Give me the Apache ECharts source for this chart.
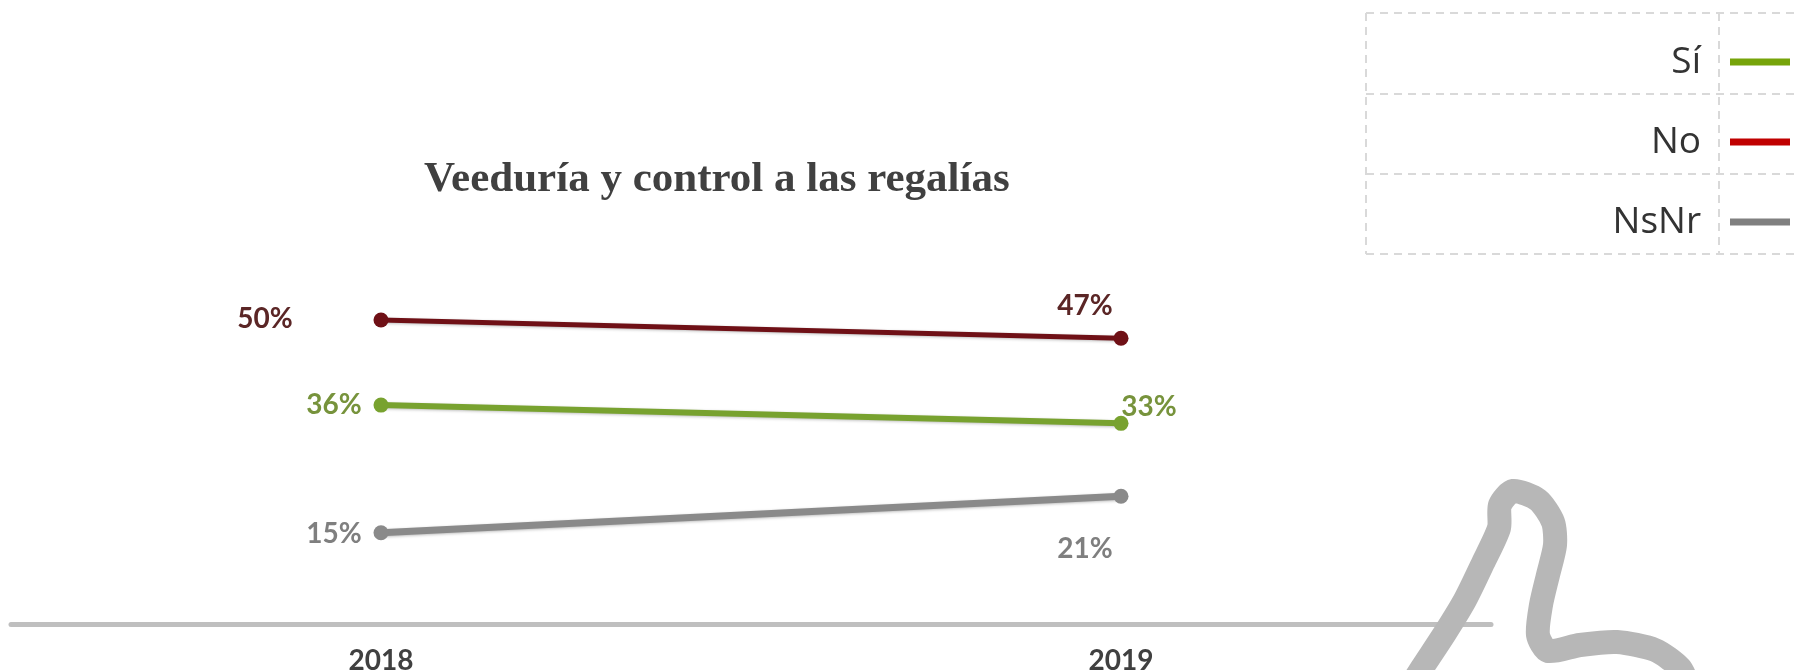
<!DOCTYPE html>
<html>
<head>
<meta charset="utf-8">
<script src="https://cdn.jsdelivr.net/npm/echarts@6/dist/echarts.min.js"></script>
<style>
  html,body{margin:0;padding:0;background:#fff;}
  #main{width:1798px;height:670px;}
</style>
</head>
<body>
<div id="main"></div>
<script>
// datos
var years = ['2018', '2019'];
var siValues = [36, 33];
var noValues = [50, 47];
var nsnrValues = [15, 21];

// posiciones de las etiquetas (offset respecto al punto)
var siOffsets = [[-47, 0], [28, -16]];
var noOffsets = [[-116, -1], [-36, -32]];
var nsnrOffsets = [[-47, 1], [-36, 53]];

var myChart = echarts.init(document.getElementById('main'));

function withLabels(values, offsets) {
  return values.map(function (v, i) {
    return { value: v, label: { offset: offsets[i] } };
  });
}

function makeSeries(name, values, offsets, lineColor, labelColor, width) {
  return {
    name: name,
    type: 'line',
    data: withLabels(values, offsets),
    symbol: 'circle',
    symbolSize: 15,
    lineStyle: {
      color: lineColor,
      width: width,
      shadowColor: 'rgba(0,0,0,0.25)',
      shadowBlur: 3,
      shadowOffsetY: 1
    },
    itemStyle: { color: lineColor, borderWidth: 0 },
    label: {
      show: true,
      position: 'inside',
      formatter: '{c}%',
      color: labelColor,
      fontFamily: 'Lato',
      fontWeight: 'bold',
      fontSize: 28
    },
    emphasis: { disabled: true },
    z: 3
  };
}

var dash = { stroke: '#d9d9d9', lineWidth: 2, lineDash: [8, 6] };

var option = {
  animation: false,
  backgroundColor: '#fff',
  title: {
    text: 'Veeduría y control a las regalías',
    left: 419,
    top: 153,
    textStyle: {
      fontFamily: 'Liberation Serif',
      fontWeight: 'bold',
      fontSize: 43,
      color: '#404040'
    }
  },
  legend: {
    orient: 'vertical',
    align: 'right',
    right: 3,
    top: 37,
    icon: 'rect',
    itemWidth: 60,
    itemHeight: 7,
    itemGap: 40,
    itemStyle: { borderWidth: 0 },
    textStyle: {
      fontFamily: 'Open Sans',
      fontSize: 37,
      lineHeight: 40,
      color: '#333',
      padding: [0, 24, 0, 0]
    },
    data: [
      { name: 'Sí', itemStyle: { color: '#76a40a' } },
      { name: 'No', itemStyle: { color: '#c00000' } },
      { name: 'NsNr', itemStyle: { color: '#808080' } }
    ]
  },
  grid: { left: 11, right: 307, top: 16, bottom: 46, containLabel: false, outerBoundsMode: 'none' },
  xAxis: {
    type: 'category',
    data: years,
    boundaryGap: true,
    axisLine: { lineStyle: { color: '#bfbfbf', width: 5 } },
    axisTick: { show: false },
    axisLabel: {
      margin: 23,
      color: '#404040',
      fontFamily: 'Lato',
      fontWeight: 'bold',
      fontSize: 28
    }
  },
  yAxis: {
    type: 'value',
    min: 0,
    max: 100,
    show: false,
    splitLine: { show: false }
  },
  series: [
    makeSeries('No', noValues, noOffsets, '#6f1016', '#5b2626', 5),
    makeSeries('Sí', siValues, siOffsets, '#78a22f', '#77933c', 6),
    makeSeries('NsNr', nsnrValues, nsnrOffsets, '#8a8a8a', '#7f7f7f', 7)
  ],
  graphic: [
    // tabla de la leyenda
    { type: 'line', shape: { x1: 1366, y1: 13, x2: 1798, y2: 13 }, style: dash, silent: true },
    { type: 'line', shape: { x1: 1366, y1: 94, x2: 1798, y2: 94 }, style: dash, silent: true },
    { type: 'line', shape: { x1: 1366, y1: 174, x2: 1798, y2: 174 }, style: dash, silent: true },
    { type: 'line', shape: { x1: 1366, y1: 254, x2: 1798, y2: 254 }, style: dash, silent: true },
    { type: 'line', shape: { x1: 1366, y1: 13, x2: 1366, y2: 254 }, style: dash, silent: true },
    { type: 'line', shape: { x1: 1719, y1: 13, x2: 1719, y2: 254 }, style: dash, silent: true },
    // trazo decorativo
    {
      type: 'polyline',
      z: 100,
      silent: true,
      shape: {
        smooth: 0.25,
        points: [[1408, 690], [1422, 668], [1445, 633], [1465, 600], [1483, 563], [1499, 528],
          [1500, 505], [1513, 491], [1538, 500], [1553, 522], [1555, 545], [1548, 575],
          [1541, 605], [1538, 635], [1548, 651], [1580, 645], [1617, 642], [1655, 650],
          [1680, 668], [1690, 690]]
      },
      style: { stroke: '#b7b7b7', lineWidth: 24, fill: null, lineJoin: 'round' }
    }
  ]
};

myChart.setOption(option);
</script>
</body>
</html>
